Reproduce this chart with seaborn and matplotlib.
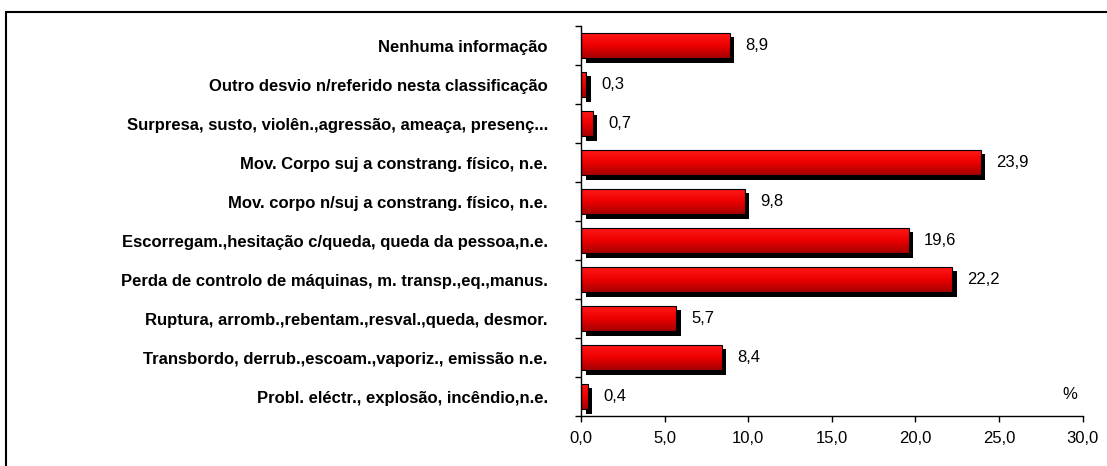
import matplotlib
matplotlib.use("Agg")
import matplotlib.pyplot as plt
import matplotlib.transforms as mtransforms
from matplotlib.patches import Rectangle
from matplotlib.colors import LinearSegmentedColormap
import numpy as np
import pandas as pd
import seaborn as sns

categorias = [
    "Nenhuma informação",
    "Outro desvio n/referido nesta classificação",
    "Surpresa, susto, violên.,agressão, ameaça, presenç...",
    "Mov. Corpo suj a constrang. físico, n.e.",
    "Mov. corpo n/suj a constrang. físico, n.e.",
    "Escorregam.,hesitação c/queda, queda da pessoa,n.e.",
    "Perda de controlo de máquinas, m. transp.,eq.,manus.",
    "Ruptura, arromb.,rebentam.,resval.,queda, desmor.",
    "Transbordo, derrub.,escoam.,vaporiz., emissão n.e.",
    "Probl. eléctr., explosão, incêndio,n.e.",
]
valores = [8.9, 0.3, 0.7, 23.9, 9.8, 19.6, 22.2, 5.7, 8.4, 0.4]
x_ticks = [0, 5, 10, 15, 20, 25, 30]

df = pd.DataFrame({"Desvio": categorias, "Percentagem": valores})

sns.set_style("white")
plt.rcParams["font.family"] = ["Liberation Sans", "DejaVu Sans"]
plt.rcParams.update({"text.color": "black", "xtick.color": "black",
                     "ytick.color": "black", "axes.labelcolor": "black"})

fig = plt.figure(figsize=(11.07, 4.66), dpi=100)
ax = fig.add_axes([0.525, 0.107, 0.453, 0.837])

sns.barplot(data=df, x="Percentagem", y="Desvio", orient="h", color="red",
            width=0.65, edgecolor="black", linewidth=0.8, ax=ax)

ax.set_xlim(0, 30)
ax.set_ylim(len(categorias) - 0.5, -0.5)

# sombra preta e gradiente vermelho em cada barra
cmap = LinearSegmentedColormap.from_list("verm", ["#ff1a1a", "#ee0000", "#a80000"])
grad = np.linspace(0, 1, 64).reshape(-1, 1)
desloc = mtransforms.ScaledTranslation(0.045, -0.045, fig.dpi_scale_trans)
for p in list(ax.patches):
    x0, y0, w, h = p.get_x(), p.get_y(), p.get_width(), p.get_height()
    sombra = Rectangle((x0, y0), w, h, facecolor="black", edgecolor="none",
                       transform=ax.transData + desloc, zorder=0.5)
    ax.add_patch(sombra)
    im = ax.imshow(grad, cmap=cmap, aspect="auto", extent=[x0, x0 + w, y0 + h, y0],
                   origin="upper", zorder=1.5, interpolation="bilinear")
    im.set_clip_path(p)
    p.set_facecolor("none")
    p.set_zorder(2)
    ax.annotate(f"{w:.1f}".replace(".", ","), xy=(x0 + w, y0 + h / 2),
                xytext=(11, 0), textcoords="offset points", va="center",
                ha="left", fontsize=12, color="black")

ax.set_xlim(0, 30)
ax.set_ylim(len(categorias) - 0.5, -0.5)
ax.set_aspect("auto")

ax.set_xticks(x_ticks)
ax.set_xticklabels([f"{t:.1f}".replace(".", ",") for t in x_ticks], fontsize=12)
ax.set_yticks(range(len(categorias)))
ax.set_yticklabels(categorias, fontsize=12, fontweight="bold")
ax.set_yticks(np.arange(-0.5, len(categorias)), minor=True)
ax.tick_params(axis="y", which="major", length=0, pad=24, labelcolor="black")
ax.tick_params(axis="y", which="minor", length=4, width=1, color="black", direction="out", left=True)
ax.tick_params(axis="x", length=4, width=1, color="black", direction="out", bottom=True, pad=7,
               labelcolor="black")
ax.set_xlabel("")
ax.set_ylabel("")

for lado in ["top", "right"]:
    ax.spines[lado].set_visible(False)
for lado in ["left", "bottom"]:
    ax.spines[lado].set_color("black")
    ax.spines[lado].set_linewidth(1)

ax.text(0.974, 0.035, "%", transform=ax.transAxes, ha="center", va="bottom", fontsize=12)

# moldura exterior
fig.add_artist(Rectangle((6 / 1107, -0.2), 1.2, 1.2 - 12 / 466 + 0.0, transform=fig.transFigure,
                         fill=False, edgecolor="black", linewidth=1.5, clip_on=False))

fig.savefig("out.png", dpi=100)
